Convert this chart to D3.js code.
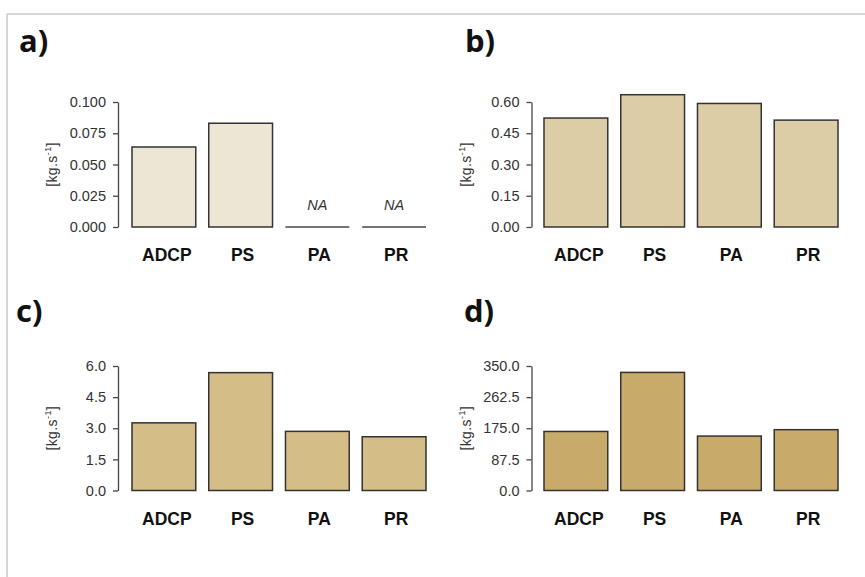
<!DOCTYPE html>
<html>
<head>
<meta charset="utf-8">
<script src="https://cdn.jsdelivr.net/npm/d3@7"></script>
<style>
  html, body { margin: 0; padding: 0; background: #fff; }
  svg { display: block; }
</style>
</head>
<body>
<svg id="chart" width="865" height="577"></svg>
<script>
// ---- data ----
const categories = ["ADCP", "PS", "PA", "PR"];
const panelLetters = ["a)", "b)", "c)", "d)"];
const valuesA = [0.064, 0.083, null, null];
const valuesB = [0.523, 0.635, 0.593, 0.513];
const valuesC = [3.26, 5.68, 2.85, 2.59];
const valuesD = [166, 332, 153, 171];
const ticksA = [0, 0.025, 0.05, 0.075, 0.1];
const ticksB = [0, 0.15, 0.30, 0.45, 0.60];
const ticksC = [0, 1.5, 3.0, 4.5, 6.0];
const ticksD = [0, 87.5, 175, 262.5, 350];
const tickFormats = [".3f", ".2f", ".1f", ".1f"];
const fills = ["#EEE6D4", "#DDCDA6", "#D4BD87", "#C8AB6A"];
const naLabel = "NA";

const panels = [
  { letter: panelLetters[0], values: valuesA, ticks: ticksA, fmt: tickFormats[0], fill: fills[0], axisX: 118, x0: 132, x1: 426, y0: 227, yTop: 102, lx: 19, ly: 52 },
  { letter: panelLetters[1], values: valuesB, ticks: ticksB, fmt: tickFormats[1], fill: fills[1], axisX: 531.5, x0: 544, x1: 838, y0: 227, yTop: 102, lx: 465, ly: 52 },
  { letter: panelLetters[2], values: valuesC, ticks: ticksC, fmt: tickFormats[2], fill: fills[2], axisX: 118, x0: 132, x1: 426, y0: 490.5, yTop: 366, lx: 16, ly: 322 },
  { letter: panelLetters[3], values: valuesD, ticks: ticksD, fmt: tickFormats[3], fill: fills[3], axisX: 531.5, x0: 544, x1: 838, y0: 490.5, yTop: 366, lx: 464, ly: 322 }
];

const svg = d3.select("#chart");

// frame lines
svg.append("line").attr("x1", 7).attr("x2", 865).attr("y1", 14).attr("y2", 14)
  .attr("stroke", "#c9c9c9").attr("stroke-width", 1.5);
svg.append("line").attr("x1", 7).attr("x2", 7).attr("y1", 14).attr("y2", 577)
  .attr("stroke", "#c9c9c9").attr("stroke-width", 1.5);

panels.forEach(p => {
  const g = svg.append("g");
  const maxTick = d3.max(p.ticks);
  const y = d3.scaleLinear().domain([0, maxTick]).range([p.y0, p.yTop]);
  const x = d3.scaleBand().domain(categories).range([p.x0, p.x1]).paddingInner(0.169).paddingOuter(0);

  // panel letter
  g.append("text").attr("x", p.lx).attr("y", p.ly)
    .attr("font-family", "'Open Sans', sans-serif").attr("font-weight", 700)
    .attr("font-size", 31).attr("fill", "#111").text(p.letter);

  // y axis
  const axis = d3.axisLeft(y).tickValues(p.ticks).tickFormat(d3.format(p.fmt))
    .tickSize(5).tickPadding(7).tickSizeOuter(0);
  const ag = g.append("g").attr("transform", `translate(${p.axisX},0)`).call(axis);
  ag.select(".domain").attr("stroke", "#444").attr("stroke-width", 1.3);
  ag.selectAll(".tick line").attr("stroke", "#444").attr("stroke-width", 1.3);
  ag.selectAll(".tick text").attr("font-family", "'Liberation Sans', Arial, sans-serif")
    .attr("font-size", 14.5).attr("fill", "#333");

  // y label
  const yl = g.append("text")
    .attr("transform", `translate(${p.axisX - 61},${(p.y0 + p.yTop) / 2}) rotate(-90)`)
    .attr("text-anchor", "middle")
    .attr("font-family", "'Liberation Sans', Arial, sans-serif")
    .attr("font-size", 14).attr("fill", "#333").attr("letter-spacing", "0.4px");
  yl.append("tspan").text("[kg.s");
  yl.append("tspan").attr("dy", -6).attr("font-size", 9).text("-1");
  yl.append("tspan").attr("dy", 6).text("]");

  // bars
  categories.forEach((c, i) => {
    const v = p.values[i];
    if (v == null) {
      g.append("line").attr("x1", x(c)).attr("x2", x(c) + x.bandwidth())
        .attr("y1", y(0)).attr("y2", y(0)).attr("stroke", "#444").attr("stroke-width", 1.5);
      g.append("text").attr("x", x(c) + x.bandwidth() / 2).attr("y", y(0) - 17)
        .attr("text-anchor", "middle").attr("font-style", "italic")
        .attr("font-family", "'Liberation Sans', Arial, sans-serif")
        .attr("font-size", 14.5).attr("fill", "#333").text(naLabel);
    } else {
      g.append("rect").attr("x", x(c)).attr("y", y(v))
        .attr("width", x.bandwidth()).attr("height", y(0) - y(v))
        .attr("fill", p.fill).attr("stroke", "#333").attr("stroke-width", 1.5);
    }
    g.append("text").attr("x", x(c) + x.bandwidth() / 2 + (i === 0 ? 3 : 2)).attr("y", p.y0 + 34)
      .attr("text-anchor", "middle").attr("font-weight", 700)
      .attr("font-family", "'Liberation Sans', Arial, sans-serif")
      .attr("font-size", 17.5).attr("fill", "#111").text(c);
  });
});
</script>
</body>
</html>
